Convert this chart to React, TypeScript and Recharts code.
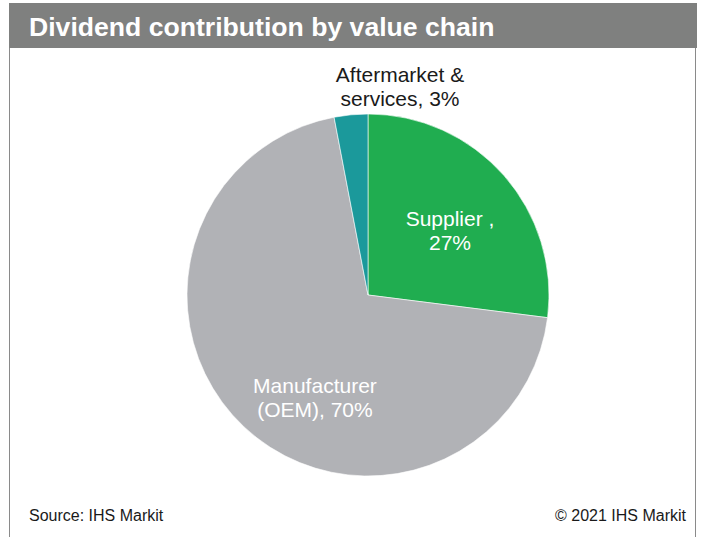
import React from 'react';
import { PieChart, Pie, Cell } from 'recharts';

const categories = ['Supplier', 'Manufacturer (OEM)', 'Aftermarket & services'];
const shares = [27, 70, 3];
// label text, split over two lines as in the source
const labelHead = ['Supplier ,', 'Manufacturer', 'Aftermarket &'];
const labelTail = ['', '(OEM), ', 'services, '];

const COLORS = ['#20ad50', '#b1b2b6', '#1b999b'];
const LABEL_COLORS = ['#ffffff', '#ffffff', '#1a1a1a'];
// label offsets from the pie centre, in units of the radius
const LABEL_OFFSETS = [
  { x: 0.453, y: -0.359 },
  { x: -0.293, y: 0.564 },
  { x: 0.177, y: -1.155 },
];

const FONT = '"Liberation Sans", Arial, Helvetica, sans-serif';

const data = categories.map((name, i) => ({ name, value: shares[i] }));

const renderLabel = (props: any) => {
  const { cx, cy, outerRadius, index } = props;
  const off = LABEL_OFFSETS[index];
  const x = cx + off.x * outerRadius;
  const y = cy + off.y * outerRadius;
  return (
    <text
      x={x}
      y={y}
      textAnchor="middle"
      dominantBaseline="central"
      fill={LABEL_COLORS[index]}
      fontSize={21}
      fontFamily={FONT}
    >
      <tspan x={x} y={y - 12}>{labelHead[index]}</tspan>
      <tspan x={x} y={y + 12}>{labelTail[index] + shares[index] + '%'}</tspan>
    </text>
  );
};

export default function App() {
  return (
    <div
      style={{
        position: 'absolute',
        left: 0,
        top: 0,
        width: 705,
        height: 537,
        background: '#fff',
        fontFamily: FONT,
        overflow: 'hidden',
      }}
    >
      {/* frame */}
      <div
        style={{
          position: 'absolute',
          left: 9,
          top: 3,
          width: 687,
          height: 560,
          border: '1px solid #8a8a8a',
          boxSizing: 'border-box',
        }}
      />
      {/* title bar */}
      <div
        style={{
          position: 'absolute',
          left: 9,
          top: 3,
          width: 688,
          height: 45,
          background: '#7f807f',
          color: '#fff',
          fontWeight: 'bold',
          fontSize: 26.6,
          lineHeight: '45px',
          paddingLeft: 20,
          paddingTop: 2,
          boxSizing: 'border-box',
          whiteSpace: 'nowrap',
        }}
      >
        Dividend contribution by value chain
      </div>
      <div style={{ position: 'absolute', left: 0, top: 0 }}>
        <PieChart width={705} height={537} margin={{ top: 0, right: 0, bottom: 0, left: 0 }}>
          <Pie
            data={data}
            dataKey="value"
            nameKey="name"
            cx={368}
            cy={295}
            outerRadius={181}
            startAngle={90}
            endAngle={-270}
            stroke="#ffffff"
            strokeWidth={0.6}
            label={renderLabel}
            labelLine={false}
            isAnimationActive={false}
          >
            {data.map((entry, index) => (
              <Cell key={`cell-${index}`} fill={COLORS[index]} />
            ))}
          </Pie>
        </PieChart>
      </div>
      <div style={{ position: 'absolute', left: 29, top: 507, fontSize: 16, color: '#1a1a1a' }}>
        Source: IHS Markit
      </div>
      <div style={{ position: 'absolute', right: 19, top: 507, fontSize: 16, color: '#1a1a1a' }}>
        © 2021 IHS Markit
      </div>
    </div>
  );
}
